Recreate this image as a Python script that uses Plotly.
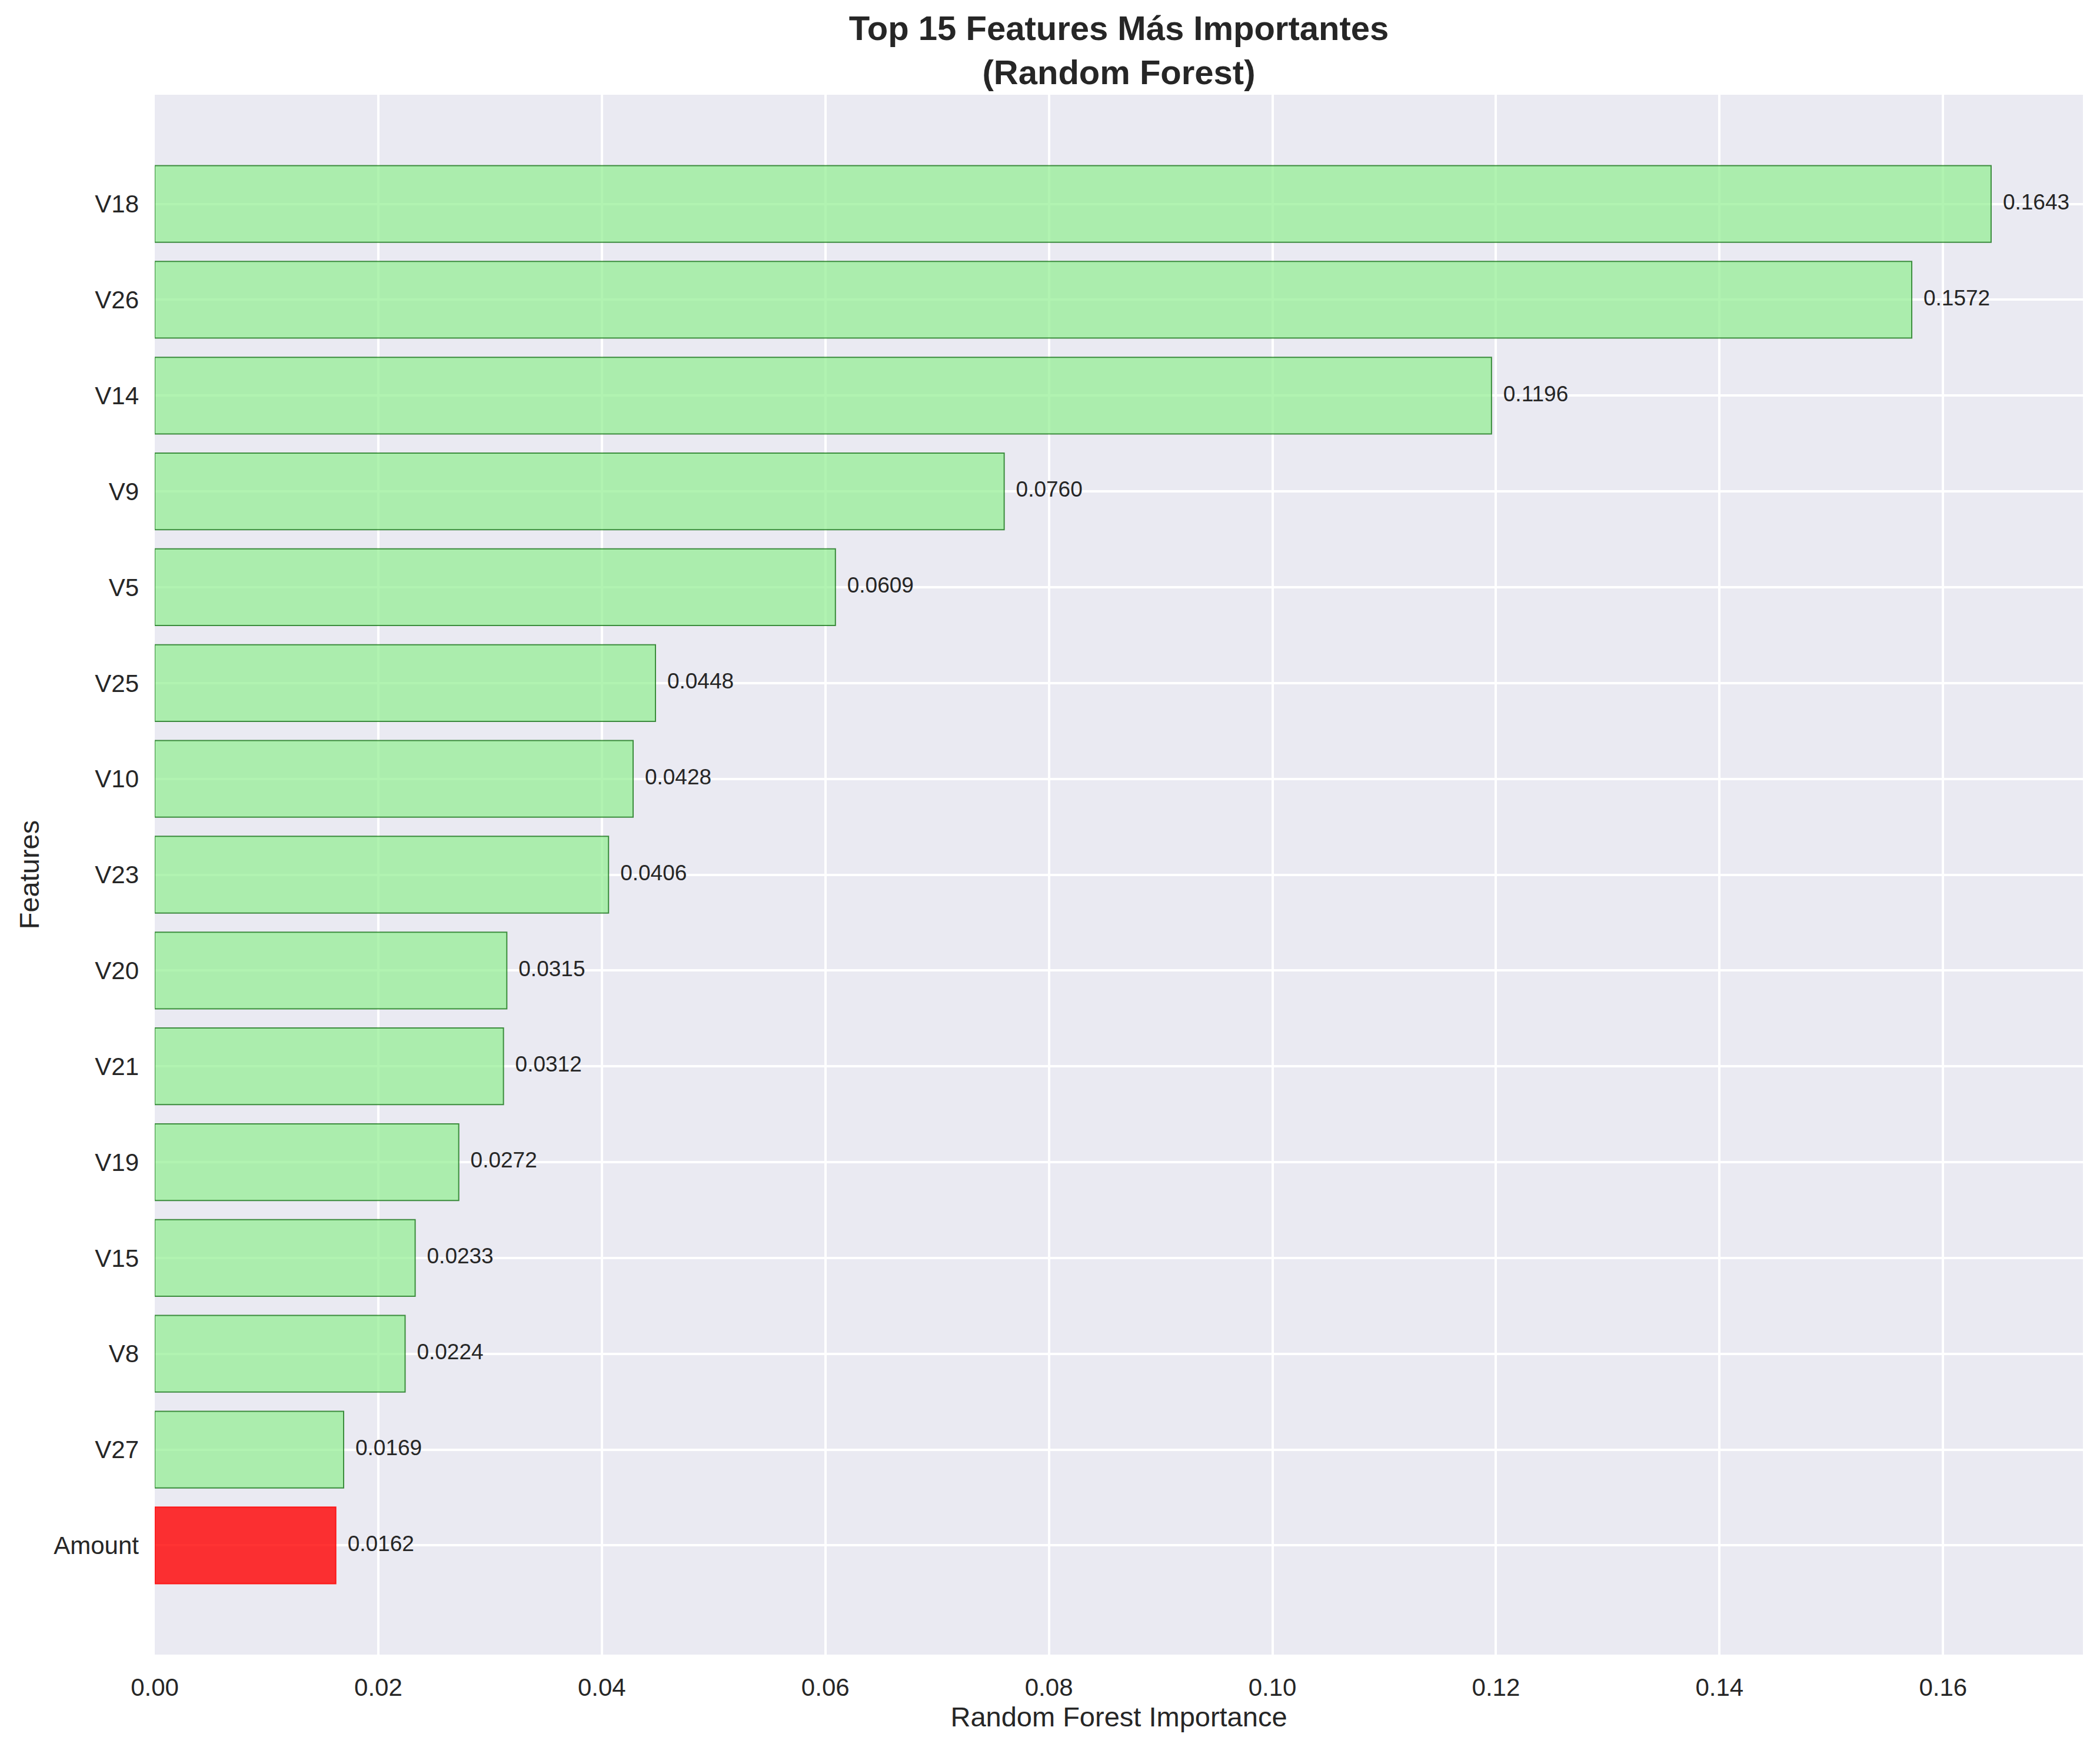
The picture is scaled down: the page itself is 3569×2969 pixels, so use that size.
import plotly.graph_objects as go

# Data (top to bottom as displayed)
features = ["V18", "V26", "V14", "V9", "V5", "V25", "V10", "V23",
            "V20", "V21", "V19", "V15", "V8", "V27", "Amount"]
importance = [0.1643, 0.1572, 0.1196, 0.0760, 0.0609, 0.0448, 0.0428, 0.0406,
              0.0315, 0.0312, 0.0272, 0.0233, 0.0224, 0.0169, 0.0162]
x_ticks = [0.00, 0.02, 0.04, 0.06, 0.08, 0.10, 0.12, 0.14, 0.16]
title_text = "Top 15 Features Más Importantes<br>(Random Forest)"
x_label = "Random Forest Importance"
y_label = "Features"

GREEN = "rgba(144,238,144,0.7)"
GREEN_EDGE = "rgba(0,100,0,0.7)"
RED = "rgba(255,0,0,0.8)"
RED_EDGE = "rgba(255,0,0,0.8)"
TEXT = "#262626"
FONT = "Liberation Sans, Arial, sans-serif"

fill_colors = [RED if f == "Amount" else GREEN for f in features]
edge_colors = [RED_EDGE if f == "Amount" else GREEN_EDGE for f in features]

# page body has an 8px margin; compensate so the plot lands where the reference has it
W, H = 3553, 2953
L, R, T, B = 255, 21, 153, 149

fig = go.Figure()
fig.add_trace(go.Bar(
    x=importance, y=features, orientation="h", width=0.8,
    marker=dict(color=fill_colors, line=dict(color=edge_colors, width=2)),
    hoverinfo="skip", showlegend=False,
))
fig.add_trace(go.Scatter(
    x=[v + 0.00105 for v in importance], y=features, mode="text",
    text=[f"{v:.4f}" for v in importance], textposition="middle right",
    textfont=dict(family=FONT, size=37, color=TEXT),
    hoverinfo="skip", showlegend=False, cliponaxis=False,
))

xmax = max(importance) * 1.05
n = len(features)
fig.update_layout(
    width=W, height=H, autosize=False,
    margin=dict(l=L, r=R, t=T, b=B, pad=0),
    paper_bgcolor="white", plot_bgcolor="#EAEAF2",
    font=dict(family=FONT, color=TEXT),
    title=dict(text=title_text, x=(L + (W - R)) / 2 / W, xanchor="center",
               xref="container", yref="container", y=1 - 60 / H, yanchor="top",
               font=dict(family=FONT, size=58, color=TEXT, weight="bold")),
    xaxis=dict(range=[0, xmax], tickvals=x_ticks, tickformat=".2f",
               showgrid=True, gridcolor="white", gridwidth=4, zeroline=False,
               showline=False, ticks="", tickfont=dict(size=42, color=TEXT),
               ticklabelstandoff=27,
               title=dict(text=x_label, font=dict(size=47, color=TEXT), standoff=8)),
    yaxis=dict(categoryorder="array", categoryarray=features[::-1],
               range=[-1.14, n - 1 + 1.14],
               showgrid=True, gridcolor="white", gridwidth=4, zeroline=False,
               showline=False, ticks="", tickfont=dict(size=42, color=TEXT),
               ticklabelstandoff=26,
               title=dict(text=y_label, font=dict(size=47, color=TEXT), standoff=9)),
    bargap=0.2,
)

fig.write_html("out.html")
